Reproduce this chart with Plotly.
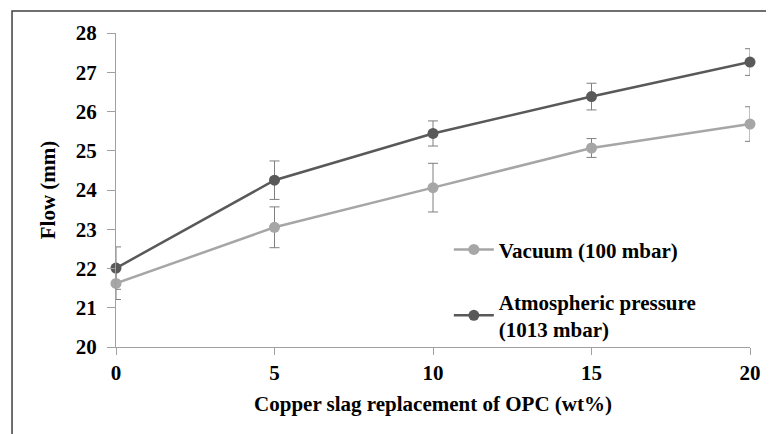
import plotly.graph_objects as go

x_vals = [0, 5, 10, 15, 20]
vacuum = [21.62, 23.05, 24.06, 25.07, 25.68]
vacuum_err = [0.41, 0.52, 0.62, 0.24, 0.44]
atm = [22.01, 24.25, 25.44, 26.38, 27.26]
atm_err = [0.54, 0.49, 0.32, 0.34, 0.34]
x_ticks = [0, 5, 10, 15, 20]
y_ticks = [20, 21, 22, 23, 24, 25, 26, 27, 28]

FONT = "Liberation Serif, Times New Roman, serif"

series = [
    ("<b>Vacuum (100 mbar)</b>", vacuum, vacuum_err, "#a6a6a6", "vac"),
    ("<b>Atmospheric pressure<br>(1013 mbar)</b>", atm, atm_err, "#595959", "atm"),
]

fig = go.Figure()
# error bars (clipped to plot area, like the original)
for name, ys, err, col, grp in series:
    fig.add_trace(go.Scatter(
        x=x_vals, y=ys, mode="markers", showlegend=False, legendgroup=grp,
        marker=dict(size=1, color="rgba(0,0,0,0)"),
        error_y=dict(type="data", array=err, visible=True,
                     color="#7f7f7f", thickness=1, width=5),
        cliponaxis=True, hoverinfo="skip",
    ))
for name, ys, err, col, grp in series:
    fig.add_trace(go.Scatter(
        x=x_vals, y=ys, name=name, mode="lines+markers", legendgroup=grp,
        line=dict(color=col, width=2.5),
        marker=dict(color=col, size=11),
        cliponaxis=False,
    ))

fig.add_shape(type="rect", xref="paper", yref="paper",
              x0=-0.164, x1=1.0347, y0=-0.4, y1=1.070,
              line=dict(color="#404040", width=1.5), layer="below")

fig.update_layout(
    width=774, height=434,
    margin=dict(l=108, r=32, t=25, b=95),
    paper_bgcolor="white", plot_bgcolor="white",
    font=dict(family=FONT, size=21, color="black"),
    showlegend=True,
    legend=dict(x=0.525, y=0.375, xanchor="left", yanchor="top",
                font=dict(family=FONT, size=21, color="black"),
                bgcolor="rgba(0,0,0,0)", itemwidth=40, tracegroupgap=22),
    xaxis=dict(range=[0, 20], tickvals=x_ticks,
               ticktext=[f"<b>{v}</b>" for v in x_ticks],
               ticks="outside", ticklen=7,
               tickcolor="#a0a0a0", showline=True, linecolor="#a0a0a0",
               linewidth=1.2, showgrid=False, zeroline=False,
               tickfont=dict(family=FONT, size=21),
               title=dict(text="<b>Copper slag replacement of OPC (wt%)</b>",
                          font=dict(family=FONT, size=21), standoff=12)),
    yaxis=dict(range=[20, 28], tickvals=y_ticks,
               ticktext=[f"<b>{v}</b>" for v in y_ticks],
               ticks="outside", ticklen=8, ticklabelstandoff=6,
               tickcolor="#a0a0a0", showline=True, linecolor="#a0a0a0",
               linewidth=1.2, showgrid=False, zeroline=False,
               tickfont=dict(family=FONT, size=21),
               title=dict(text="<b>Flow (mm)</b>",
                          font=dict(family=FONT, size=21), standoff=14)),
)

fig.write_html("out.html")
